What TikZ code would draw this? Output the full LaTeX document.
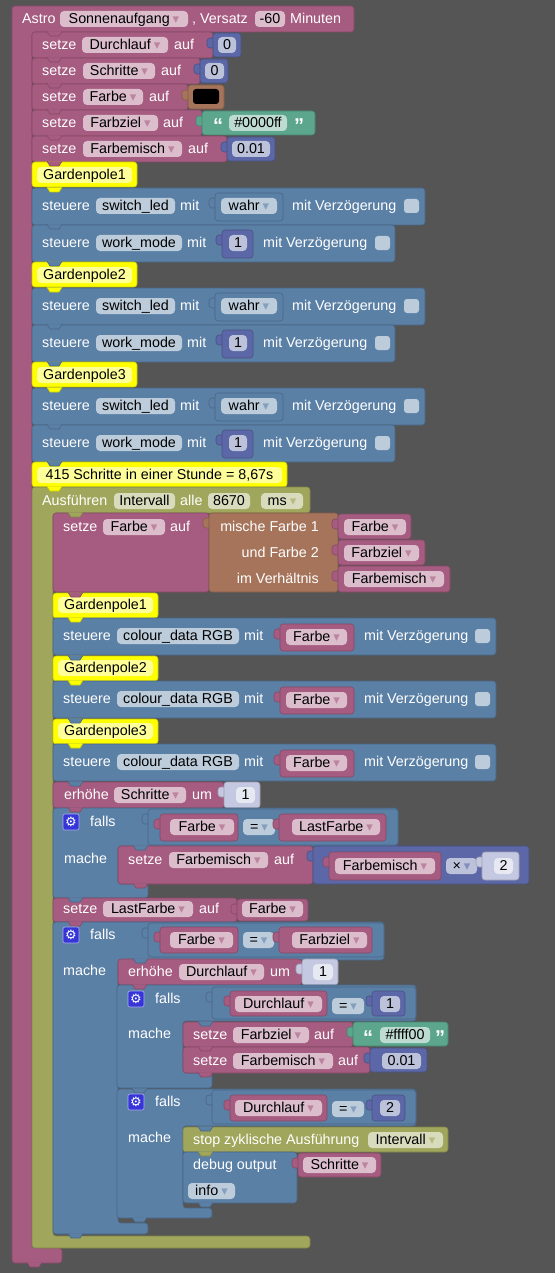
\documentclass[tikz,border=0pt]{standalone}
\usepackage{fontspec}
\setmainfont{Liberation Sans}
\newfontfamily\symf{DejaVu Sans}
\definecolor{bg}{HTML}{555555}
\definecolor{pur}{HTML}{A65B80}
\definecolor{blu}{HTML}{5B80A6}
\definecolor{num}{HTML}{5B67A6}
\definecolor{brn}{HTML}{A6745B}
\definecolor{grn}{HTML}{5BA68D}
\definecolor{olv}{HTML}{A0A65B}
\definecolor{shd}{HTML}{C4C8E0}
\definecolor{yel}{HTML}{FFFF00}
\definecolor{gearc}{HTML}{3535D8}
\newcounter{nn}
\newcommand\nxt{\stepcounter{nn}\edef\nm{n\arabic{nn}}}
\newcommand\tx[3]{\nxt\node[tx] (\nm) at (#1,#2) {#3};}
\newcommand\txr[3]{\nxt\node[tx,anchor=east] (\nm) at (#1,#2) {#3};}
\newcommand\qt[3]{\nxt\node[tx,font=\bfseries\fontsize{20}{20}\selectfont] (\nm) at (#1,#2+5) {#3};}
\newcommand\fld[4]{\path[fbg] (#1,#3-8) rectangle (#2,#3+8);\nxt\node[ftx] (\nm) at ({(#1+#2)/2},#3) {#4};}
\newcommand\bk[5]{\path[blk=#1] (#2,#3) rectangle (#4,#5);}
\newcommand\vb[5]{\path[blk=#1] (#2-6,#3+5) rectangle (#2+2,#3+15);\path[blk=#1] (#2,#3) rectangle (#4,#5);}
\newcommand\notch[3]{\path[fill=#1,draw=#1!80!black,line width=0.6pt] (#2+15,#3-0.6) -- (#2+18,#3+4) -- (#2+27,#3+4) -- (#2+30,#3-0.6);}
\newcommand\dd[1]{\hspace{3pt}{\symf\fontsize{13}{13}\selectfont\textcolor{#1!75!white}{▾}}}
\newcommand\gear[2]{\path[fill=gearc,draw=white!60!gearc,line width=0.6pt,rounded corners=2pt] (#1-8,#2-8) rectangle (#1+8,#2+8);\nxt\node[inner sep=0pt,text=white,font=\symf\fontsize{13}{13}\selectfont] (\nm) at (#1,#2) {⚙};}
\newcommand\chk[2]{\path[fbg,rounded corners=3pt] (#1,#2-7) rectangle (#1+15,#2+7);}
\tikzset{
  tx/.style={anchor=west,inner sep=0pt,text height=9pt,text depth=0pt,text=white,font=\fontsize{14.3}{16}\selectfont},
  ftx/.style={inner sep=0pt,text height=9pt,text depth=0pt,text=black,font=\fontsize{14.3}{16}\selectfont},
  fbg/.style={fill=white,fill opacity=0.6,rounded corners=4pt},
  blk/.style={fill=#1,draw=#1!80!black,line width=0.6pt,rounded corners=3pt},
}
\begin{document}
\begin{tikzpicture}[x=1pt,y=-1pt]
\fill[bg] (0,0) rectangle (555,1273);
\useasboundingbox (0,0) rectangle (555,1273);
% Astro block
\path[blk=pur] (12,6) -- (354,6) -- (354,32) -- (32,32) -- (32,1248) -- (62,1248) -- (62,1263) -- (12,1263) -- cycle;
\notch{pur}{12}{1263}
\tx{22}{19}{Astro}
\fld{60}{188}{19}{Sonnenaufgang\dd{pur}}
\tx{192}{19}{, Versatz}
\fld{255}{285}{19}{-60}
\tx{290}{19}{Minuten}
% setze rows
\bk{pur}{32}{32}{213}{58}\notch{pur}{32}{32}\tx{42}{45}{setze}\fld{82}{168}{45}{Durchlauf\dd{pur}}\tx{174}{45}{auf}
\vb{num}{213}{33}{241}{57}\fld{218}{236}{45}{0}
\bk{pur}{32}{58}{200}{84}\notch{pur}{32}{58}\tx{42}{71}{setze}\fld{83}{155}{71}{Schritte\dd{pur}}\tx{161}{71}{auf}
\vb{num}{200}{59}{228}{83}\fld{205}{224}{71}{0}
\bk{pur}{32}{84}{188}{110}\notch{pur}{32}{84}\tx{42}{97}{setze}\fld{83}{143}{97}{Farbe\dd{pur}}\tx{149}{97}{auf}
\vb{brn}{188}{85}{224}{109}\path[fill=black,rounded corners=3pt] (193,89) rectangle (219,104);
\bk{pur}{32}{110}{202}{136}\notch{pur}{32}{110}\tx{42}{123}{setze}\fld{83}{158}{123}{Farbziel\dd{pur}}\tx{163}{123}{auf}
\vb{grn}{202}{111}{315}{135}\qt{213}{123}{“}\fld{229}{287}{123}{\#0000ff}\qt{294}{123}{”}
\bk{pur}{32}{136}{227}{162}\notch{pur}{32}{136}\tx{42}{149}{setze}\fld{83}{182}{149}{Farbemisch\dd{pur}}\tx{188}{149}{auf}
\vb{num}{227}{137}{275}{161}\fld{232}{270}{149}{0.01}
% Gardenpole groups
\foreach \o/\n in {0/1,100/2,200/3}{
  \bk{yel}{32}{162+\o}{137}{187+\o}\fld{37}{132}{175+\o}{Gardenpole\n}
  \bk{blu}{32}{188+\o}{425}{225+\o}\tx{42}{206+\o}{steuere}\fld{96}{175}{206+\o}{switch\_led}\tx{180}{206+\o}{mit}
  \vb{blu}{215}{193+\o}{283}{221+\o}\fld{221}{277}{206+\o}{wahr\dd{blu}}\tx{292}{206+\o}{mit Verzögerung}\chk{404}{206+\o}
  \bk{blu}{32}{225+\o}{395}{262+\o}\tx{42}{243+\o}{steuere}\fld{96}{182}{243+\o}{work\_mode}\tx{187}{243+\o}{mit}
  \vb{num}{222}{230+\o}{253}{258+\o}\fld{229}{247}{243+\o}{1}\tx{263}{243+\o}{mit Verzögerung}\chk{375}{243+\o}
  \notch{yel}{32}{188+\o}\notch{blu}{32}{225+\o}
}
\notch{pur}{32}{162}\notch{blu}{32}{262}\notch{blu}{32}{362}
\bk{yel}{32}{462}{287}{487}\fld{37}{282}{475}{415 Schritte in einer Stunde = 8,67s}
\notch{blu}{32}{462}
% Interval block
\path[blk=olv] (32,487) -- (310,487) -- (310,513) -- (53,513) -- (53,1236) -- (310,1236) -- (310,1248) -- (32,1248) -- cycle;
\notch{yel}{32}{487}
\tx{42}{501}{Ausführen}\fld{114}{175}{501}{Intervall}\tx{180}{501}{alle}\fld{208}{250}{501}{8670}\fld{261}{303}{501}{ms\dd{olv}}
% mix
\bk{pur}{53}{513}{209}{592}\notch{olv}{53}{513}\tx{63}{527}{setze}\fld{103}{165}{527}{Farbe\dd{pur}}\tx{170}{527}{auf}
\vb{brn}{209}{513}{338}{592}
\txr{319}{527}{mische Farbe 1}\txr{319}{553}{und Farbe 2}\txr{319}{579}{im Verhältnis}
\vb{pur}{338}{514}{411}{539}\fld{344}{406}{527}{Farbe\dd{pur}}
\vb{pur}{338}{540}{425}{565}\fld{344}{419}{553}{Farbziel\dd{pur}}
\vb{pur}{338}{566}{450}{592}\fld{344}{444}{579}{Farbemisch\dd{pur}}
\foreach \o/\n in {0/1,63/2,126/3}{
  \bk{yel}{53}{593+\o}{158}{618+\o}\fld{58}{153}{605+\o}{Gardenpole\n}
  \bk{blu}{53}{618+\o}{496}{655+\o}\tx{63}{636+\o}{steuere}\fld{117}{239}{636+\o}{colour\_data RGB}\tx{244}{636+\o}{mit}
  \vb{pur}{280}{624+\o}{354}{651+\o}\fld{286}{347}{637+\o}{Farbe\dd{pur}}\tx{364}{636+\o}{mit Verzögerung}\chk{475}{636+\o}
  \notch{yel}{53}{618+\o}
}
\notch{pur}{53}{593}\notch{blu}{53}{656}\notch{blu}{53}{719}
% erhöhe Schritte
\bk{pur}{53}{782}{224}{808}\notch{blu}{53}{782}\tx{64}{795}{erhöhe}\fld{114}{186}{795}{Schritte\dd{pur}}\tx{192}{795}{um}
\vb{shd}{224}{782}{260}{808}\fld{236}{255}{795}{1}
% if 1
\path[blk=blu] (53,808) -- (398,808) -- (398,846) -- (118,846) -- (118,884) -- (148,884) -- (148,898) -- (53,898) -- cycle;
\notch{pur}{53}{808}
\vb{blu}{148}{809}{398}{845}
\gear{71}{822}\tx{90}{822}{falls}
\vb{pur}{160}{814}{238}{841}\fld{170}{234}{827}{Farbe\dd{pur}}
\fld{243}{275}{827}{=\dd{blu}}
\vb{pur}{279}{814}{386}{841}\fld{292}{380}{827}{LastFarbe\dd{pur}}
\tx{64}{859}{mache}
\bk{pur}{118}{846}{313}{884}\notch{blu}{118}{846}\notch{pur}{118}{884}\tx{128}{860}{setze}\fld{169}{268}{860}{Farbemisch\dd{pur}}\tx{274}{860}{auf}
\vb{num}{313}{846}{529}{884}
\vb{pur}{329}{852}{441}{880}\fld{335}{435}{866}{Farbemisch\dd{pur}}
\fld{446}{477}{866}{×\dd{num}}
\vb{shd}{482}{852}{519}{880}\fld{494}{513}{866}{2}
% setze LastFarbe
\bk{pur}{53}{898}{237}{922}\notch{blu}{53}{898}\tx{63}{909}{setze}\fld{103}{193}{909}{LastFarbe\dd{pur}}\tx{199}{909}{auf}
\vb{pur}{237}{899}{308}{921}\fld{242}{303}{909}{Farbe\dd{pur}}
% if 2
\path[blk=blu] (53,922) -- (384,922) -- (384,960) -- (118,960) -- (118,1223) -- (148,1223) -- (148,1234) -- (53,1234) -- cycle;
\notch{pur}{53}{922}\notch{blu}{53}{1234}
\vb{blu}{148}{923}{384}{957}
\gear{71}{935}\tx{90}{935}{falls}
\vb{pur}{160}{927}{238}{953}\fld{170}{233}{940}{Farbe\dd{pur}}
\fld{243}{274}{940}{=\dd{blu}}
\vb{pur}{279}{927}{372}{953}\fld{292}{367}{940}{Farbziel\dd{pur}}
\tx{63}{971}{mache}
\bk{pur}{118}{959}{302}{985}\notch{blu}{118}{959}\tx{128}{972}{erhöhe}\fld{179}{264}{972}{Durchlauf\dd{pur}}\tx{270}{972}{um}
\vb{shd}{302}{959}{338}{985}\fld{313}{333}{972}{1}
% if 3
\path[blk=blu] (117,985) -- (416,985) -- (416,1021) -- (183,1021) -- (183,1073) -- (212,1073) -- (212,1088) -- (117,1088) -- cycle;
\notch{pur}{117}{985}
\vb{blu}{212}{987}{416}{1019}
\gear{136}{999}\tx{155}{999}{falls}
\vb{pur}{230}{991}{327}{1016}\fld{235}{322}{1004}{Durchlauf\dd{pur}}
\fld{332}{364}{1006}{=\dd{blu}}
\vb{num}{372}{991}{405}{1016}\fld{380}{400}{1004}{1}
\tx{128}{1034}{mache}
\bk{pur}{183}{1022}{353}{1047}\notch{blu}{183}{1022}\tx{193}{1035}{setze}\fld{233}{309}{1035}{Farbziel\dd{pur}}\tx{314}{1035}{auf}
\vb{grn}{353}{1022}{448}{1046}\qt{363}{1035}{“}\fld{380}{430}{1035}{\#ffff00}\qt{435}{1035}{”}
\bk{pur}{183}{1047}{370}{1073}\notch{pur}{183}{1047}\notch{pur}{183}{1073}\tx{193}{1061}{setze}\fld{233}{333}{1061}{Farbemisch\dd{pur}}\tx{338}{1061}{auf}
\vb{num}{370}{1048}{427}{1072}\fld{382}{421}{1061}{0.01}
% if 4
\path[blk=blu] (117,1089) -- (416,1089) -- (416,1126) -- (183,1126) -- (183,1208) -- (212,1208) -- (212,1218) -- (117,1218) -- cycle;
\notch{blu}{117}{1089}\notch{blu}{117}{1218}
\vb{blu}{212}{1090}{416}{1124}
\gear{136}{1102}\tx{155}{1102}{falls}
\vb{pur}{230}{1095}{327}{1121}\fld{235}{322}{1108}{Durchlauf\dd{pur}}
\fld{332}{364}{1109}{=\dd{blu}}
\vb{num}{372}{1095}{405}{1121}\fld{380}{400}{1108}{2}
\tx{128}{1138}{mache}
\bk{olv}{183}{1127}{448}{1152}\notch{blu}{183}{1127}\tx{193}{1140}{stop zyklische Ausführung}\fld{368}{443}{1140}{Intervall\dd{olv}}
\bk{blu}{183}{1152}{297}{1203}\notch{olv}{183}{1152}\notch{blu}{183}{1203}\tx{193}{1165}{debug output}
\vb{pur}{298}{1153}{381}{1177}\fld{303}{376}{1165}{Schritte\dd{pur}}
\fld{188}{235}{1191}{info\dd{blu}}
\end{tikzpicture}
\end{document}
